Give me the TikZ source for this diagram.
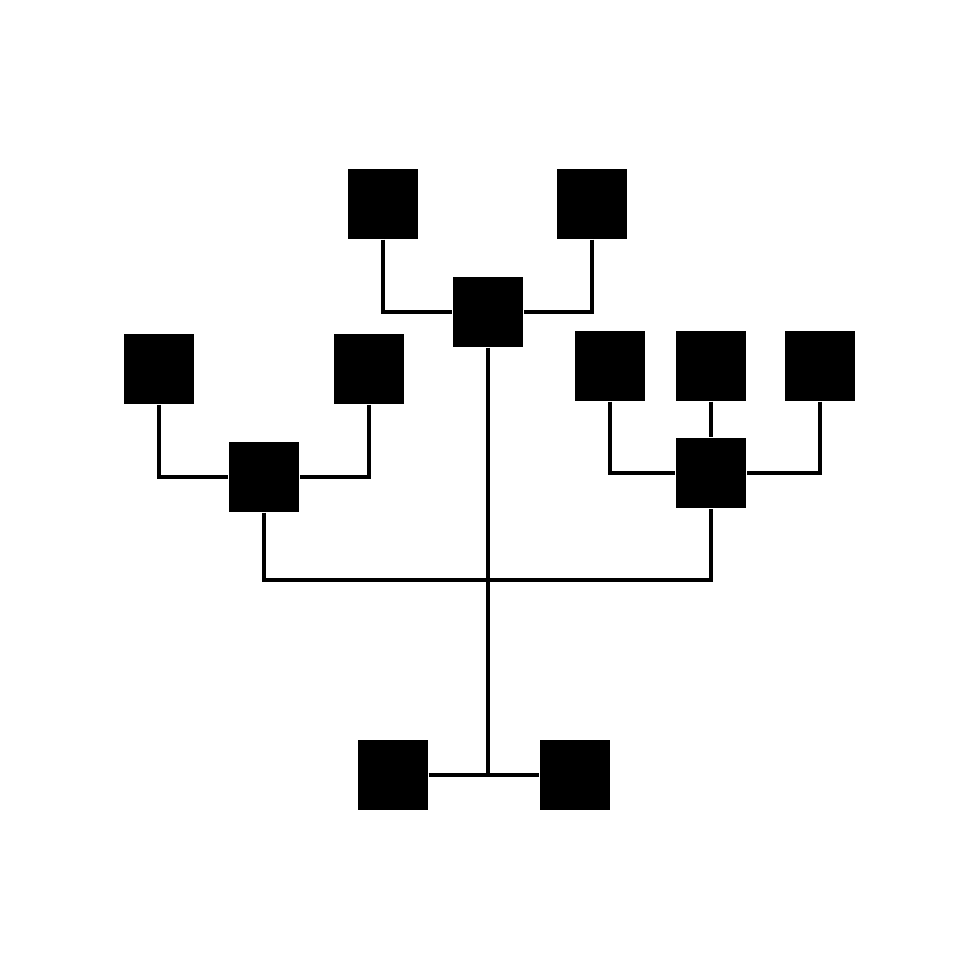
\documentclass[tikz,border=0pt]{standalone}
\usepackage{tikz}
\tikzset{
  sq/.style={rectangle,fill=black,minimum size=7mm,inner sep=0pt},
  ln/.style={line width=1.15pt},
}
\begin{document}
\begin{tikzpicture}
\useasboundingbox (0,0) rectangle (9.8,-9.8);
\node[sq] (T1) at (3.83,-2.04){}; \node[sq] (T2) at (5.92,-2.04){};
\node[sq] (C) at (4.88,-3.12){};
\node[sq] (L1) at (1.59,-3.69){}; \node[sq] (L2) at (3.69,-3.69){}; \node[sq] (L) at (2.64,-4.77){};
\node[sq] (R1) at (6.10,-3.66){}; \node[sq] (R2) at (7.11,-3.66){}; \node[sq] (R3) at (8.20,-3.66){};
\node[sq] (R) at (7.11,-4.73){};
\node[sq] (B1) at (3.93,-7.75){}; \node[sq] (B2) at (5.75,-7.75){};
\coordinate (hub) at (4.88,-5.80); \coordinate (bot) at (4.88,-7.75);
\draw[ln] (T1) |- (C); \draw[ln] (T2) |- (C);
\draw[ln] (L1) |- (L); \draw[ln] (L2) |- (L);
\draw[ln] (R1) |- (R); \draw[ln] (R3) |- (R); \draw[ln] (R2)--(R);
\draw[ln] (L) |- (hub) -| (R);
\draw[ln] (C)--(bot); \draw[ln] (B1)--(B2);
\end{tikzpicture}
\end{document}
